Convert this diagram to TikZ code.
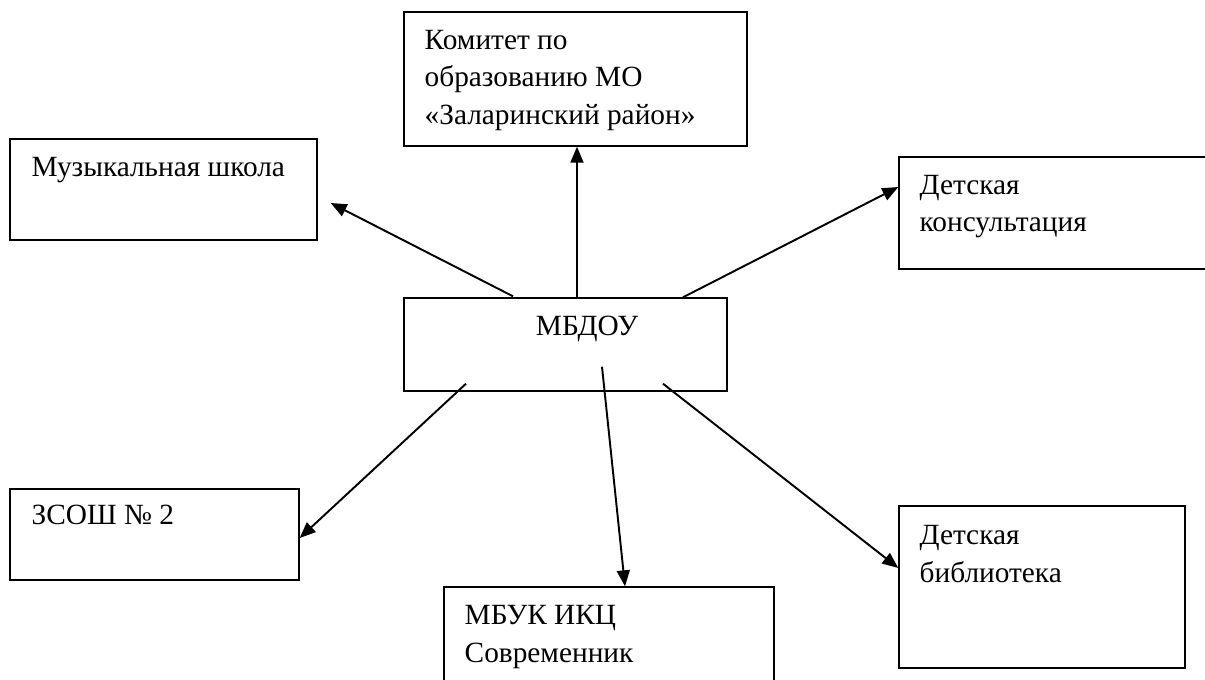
\documentclass[tikz,border=0pt]{standalone}
\usepackage{fontspec}
\setmainfont{Liberation Serif}
\usetikzlibrary{calc,arrows.meta}

\tikzset{
  box/.style={draw, line width=0.8pt, rectangle, inner sep=0pt},
  txt/.style={anchor=base west, align=left, inner sep=0pt,
    font=\fontsize{16.7}{21.3}\selectfont},
  arr/.style={line width=1.1pt, -{Triangle[length=0.32cm, width=0.26cm]}}
}

\begin{document}
\begin{tikzpicture}[x=0.02cm, y=-0.02cm]
    \useasboundingbox (0,0) rectangle (1205,680);

    % Top
    \node[box, minimum width=6.86cm, minimum height=2.68cm] (komitet) at (575.5,79) {};
    \node[txt] (komitet-t) at ($(komitet.north west)+(21,113)$)
        {Комитет по\\образованию МО\\«Заларинский район»};

    % Left and right
    \node[box, minimum width=6.14cm, minimum height=2.02cm] (muz) at (163.5,189.5) {};
    \node[txt] (muz-t) at ($(muz.north west)+(22,38)$) {Музыкальная школа};

    \node[box, minimum width=6.32cm, minimum height=2.24cm] (kons) at (1057,213) {};
    \node[txt] (kons-t) at ($(kons.north west)+(21,75.5)$) {Детская\\консультация};

    % Centre
    \node[box, minimum width=6.46cm, minimum height=1.86cm] (mbdou) at (565.5,344.5) {};
    \node[txt, anchor=base] (mbdou-t) at (587,335) {МБДОУ};

    % Bottom
    \node[box, minimum width=5.78cm, minimum height=1.82cm] (zsosh) at (154.5,534.5) {};
    \node[txt] (zsosh-t) at ($(zsosh.north west)+(22,36)$) {ЗСОШ № 2};

    \node[box, minimum width=6.6cm, minimum height=2.06cm] (mbuk) at (609,638.5) {};
    \node[txt] (mbuk-t) at ($(mbuk.north west)+(21,76)$) {МБУК ИКЦ\\Современник};

    \node[box, minimum width=5.72cm, minimum height=3.24cm] (bibl) at (1042,587) {};
    \node[txt] (bibl-t) at ($(bibl.north west)+(21,77)$) {Детская\\библиотека};

    % Connections
    \draw[arr] ($(mbdou.north)+(11.5,0)$) -- ($(komitet.south)+(1.5,0)$);
    \draw[arr] ($(mbdou.north)+(-52.5,-1)$) -- ($(muz.east)+(13,13.5)$);
    \draw[arr] ($(mbdou.north)+(117.5,0)$) -- ($(kons.west)+(0,-26)$);
    \draw[arr] ($(mbdou.south)+(-99.5,-8)$) -- ($(zsosh.east)+(0,3.5)$);
    \draw[arr] ($(mbdou.south)+(36.5,-25)$) -- ($(mbuk.north)+(16,0)$);
    \draw[arr] ($(mbdou.south)+(97.5,-8)$) -- ($(bibl.west)+(0,-19)$);

\end{tikzpicture}
\end{document}
